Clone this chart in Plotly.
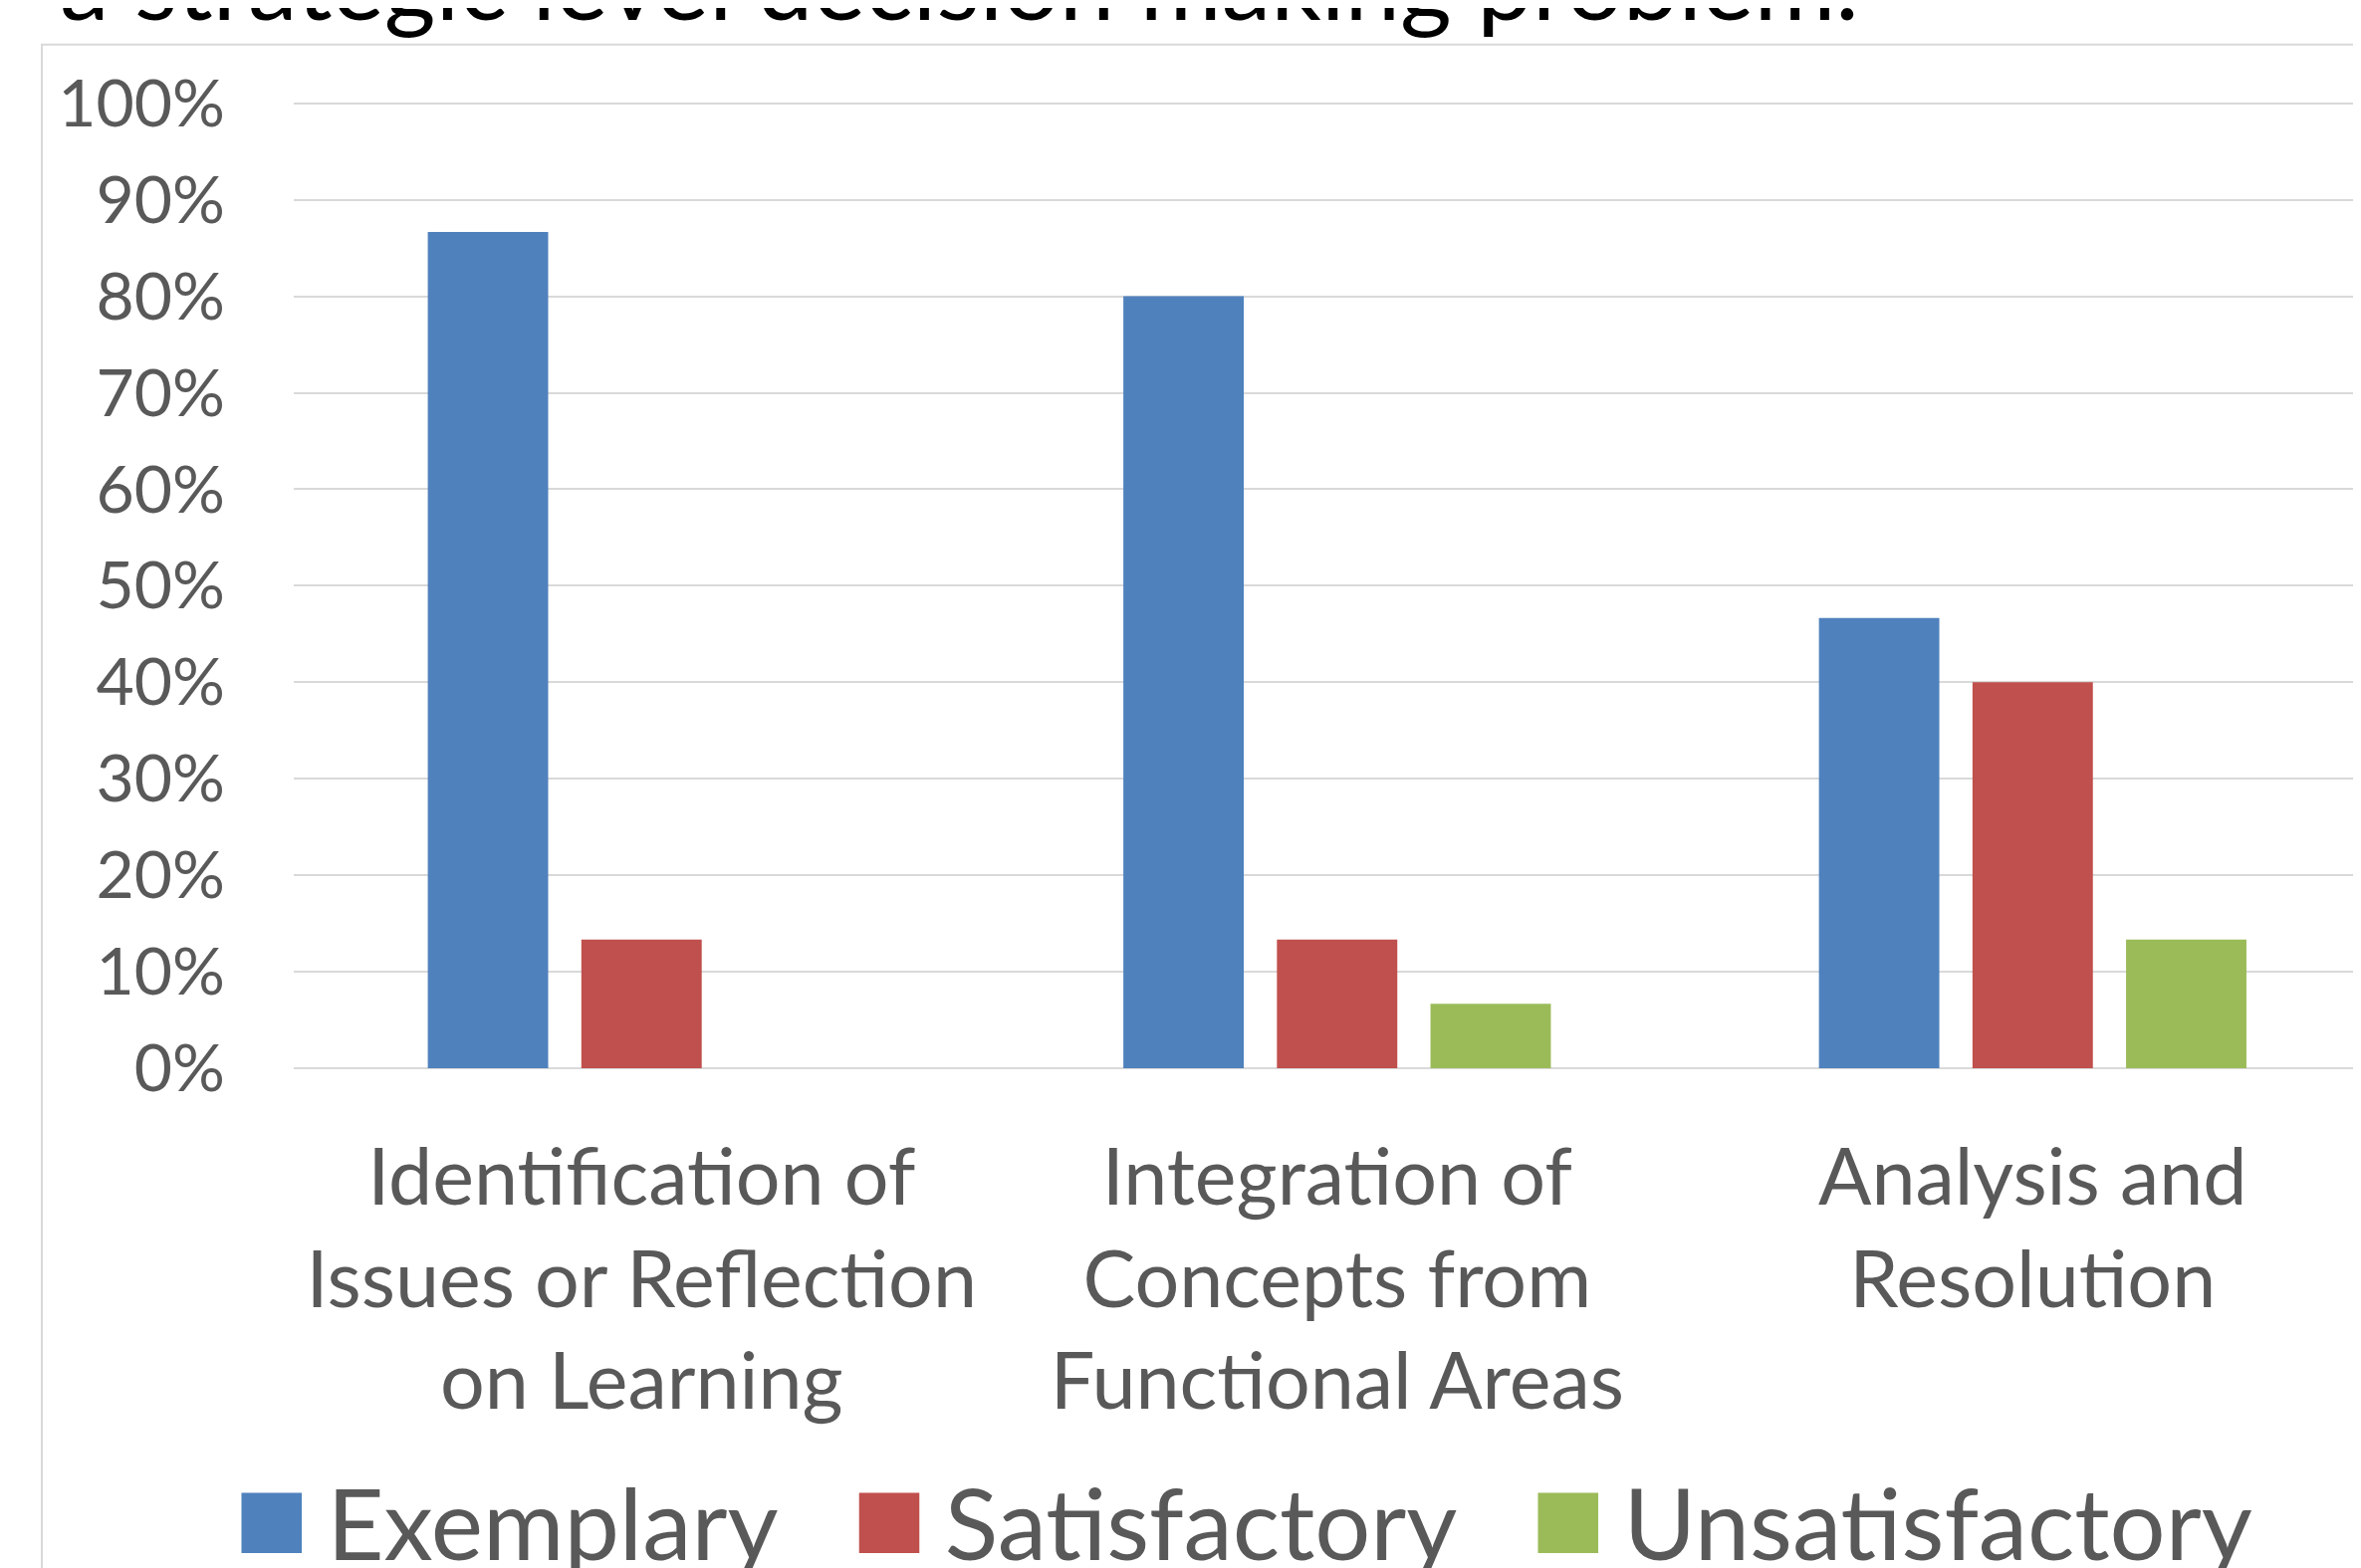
import plotly.graph_objects as go

categories = [
    "Identification of<br>Issues or Reflection<br>on Learning",
    "Integration of<br>Concepts from<br>Functional Areas",
    "Analysis and<br>Resolution",
]
series_names = ["Exemplary", "Satisfactory", "Unsatisfactory"]
exemplary = [0.8667, 0.80, 0.4667]
satisfactory = [0.1333, 0.1333, 0.40]
unsatisfactory = [0.0, 0.0667, 0.1333]
y_ticks = [0, 0.1, 0.2, 0.3, 0.4, 0.5, 0.6, 0.7, 0.8, 0.9, 1.0]
title_text = "a strategic level decision making problem."

colors = ["#4F81BD", "#C0504D", "#9BBB59"]
values = [exemplary, satisfactory, unsatisfactory]

OFF = 8  # default page body margin
W, H = 2371 - OFF, 1575 - OFF
L, R, T, B = 295 - OFF, 0, 65.2 - OFF, 502
FONT = "Lato"
GRAY = "#595959"

fig = go.Figure()
for name, vals, col in zip(series_names, values, colors):
    fig.add_trace(go.Bar(
        x=categories, y=vals, name=name, showlegend=False,
        marker=dict(color=col, line=dict(width=0)),
    ))

# legend entries with large colored squares
for name, col in zip(series_names, colors):
    fig.add_trace(go.Scatter(
        x=[None], y=[None], mode="markers",
        marker=dict(color="rgba(0,0,0,0)", size=2),
        name=(f'<span style="color:{col};font-size:125px">■</span>'
              f'<span style="font-size:70px">\u00a0</span>{name}'
              f'<span style="font-size:56px">\u00a0\u00a0</span>'),
        showlegend=True,
    ))

plot_w = W - L - R
plot_h = H - T - B

def px_to_paper_x(px):
    # px in page coordinates
    return (px - OFF - L) / plot_w

def px_to_paper_y(py):
    return (H - B - (py - OFF)) / plot_h

fig.update_layout(
    width=W, height=H,
    margin=dict(l=L, r=R, t=T, b=B, autoexpand=False),
    paper_bgcolor="white", plot_bgcolor="white",
    barmode="group", bargap=0.3377, bargroupgap=0.216,
    font=dict(family=FONT, color=GRAY),
    xaxis=dict(
        range=[-0.5, 2.472], showgrid=False, showline=False, zeroline=False,
        tickfont=dict(family=FONT, size=79, color=GRAY),
        ticks="", ticklabelstandoff=57,
    ),
    yaxis=dict(
        range=[0, 1.04], tickvals=y_ticks, tickformat=".0%",
        showgrid=True, gridcolor="#D9D9D9", gridwidth=2,
        zeroline=True, zerolinecolor="#D9D9D9", zerolinewidth=2,
        showline=False, ticks="",
        tickfont=dict(family=FONT, size=66, color=GRAY),
        ticklabelstandoff=68,
    ),
    legend=dict(
        orientation="h", x=px_to_paper_x(195), y=px_to_paper_y(1457),
        xanchor="left", yanchor="top",
        font=dict(family=FONT, size=99, color=GRAY),
        itemwidth=30, bgcolor="rgba(0,0,0,0)",
    ),
    shapes=[dict(
        type="rect", xref="paper", yref="paper",
        x0=px_to_paper_x(42), x1=1.1, y0=-0.7, y1=px_to_paper_y(45),
        line=dict(color="#D9D9D9", width=2), fillcolor="rgba(0,0,0,0)",
        layer="below",
    )],
    annotations=[dict(
        text=title_text, xref="paper", yref="paper",
        x=px_to_paper_x(58), y=px_to_paper_y(18), xanchor="left", yanchor="bottom",
        yshift=-25, showarrow=False,
        font=dict(family=FONT, size=99.5, color="black"),
    )],
)

fig.write_html("out.html")
